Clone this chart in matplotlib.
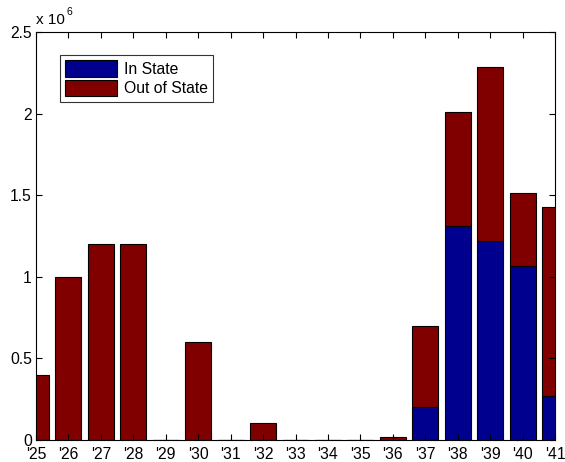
import matplotlib
matplotlib.use("Agg")
import matplotlib.pyplot as plt
import numpy as np

years = [25, 26, 27, 28, 29, 30, 31, 32, 33, 34, 35, 36, 37, 38, 39, 40, 41]
year_labels = ["'%d" % y for y in years]
in_state = [0, 0, 0, 0, 0, 0, 0, 0, 0, 0, 0, 0,
            200000, 1309000, 1219000, 1064000, 268000]
totals = [400000, 1000000, 1200000, 1200000, 0, 600000, 0, 102000, 0, 0, 0, 20000,
          700000, 2012000, 2287000, 1515000, 1428000]
out_state = [t - i for t, i in zip(totals, in_state)]
ytick_vals = [0, 500000, 1000000, 1500000, 2000000, 2500000]
ytick_labels = ["0", "0.5", "1", "1.5", "2", "2.5"]

plt.rcParams['font.family'] = ['Liberation Sans', 'DejaVu Sans']

fig = plt.figure(figsize=(5.65, 4.62), dpi=100)
ax = fig.add_axes([36/565, 22/462, 519/565, 408/462])

blue = '#00008f'
red = '#800000'
ax.bar(years, in_state, width=0.8, color=blue, edgecolor='black', linewidth=0.8,
       label='In State')
ax.bar(years, out_state, width=0.8, bottom=in_state, color=red, edgecolor='black',
       linewidth=0.8, label='Out of State')

ax.set_xlim(25, 41)
ax.set_ylim(0, 2500000)
ax.set_xticks(years)
ax.set_xticklabels(year_labels)
ax.set_yticks(ytick_vals)
ax.set_yticklabels(ytick_labels)
ax.tick_params(direction='in', length=4, width=0.8, top=True, right=True,
               labelsize=11.3)
ax.tick_params(axis='x', pad=5)
ax.tick_params(axis='y', pad=3)
for s in ax.spines.values():
    s.set_linewidth(0.8)

ax.text(0.0, 1.012, 'x 10', transform=ax.transAxes, fontsize=11, ha='left', va='bottom')
ax.text(0.059, 1.037, '6', transform=ax.transAxes, fontsize=7.5, ha='left', va='bottom')

leg = ax.legend(loc='upper left', bbox_to_anchor=(24/519, 1 - 23/408), frameon=True,
                fancybox=False, edgecolor='black', fontsize=11.3, handlelength=3.3,
                handleheight=1.2, handletextpad=0.4, borderpad=0.35, labelspacing=0.2,
                borderaxespad=0)
leg.get_frame().set_linewidth(0.8)

fig.savefig('out.png', dpi=100)
